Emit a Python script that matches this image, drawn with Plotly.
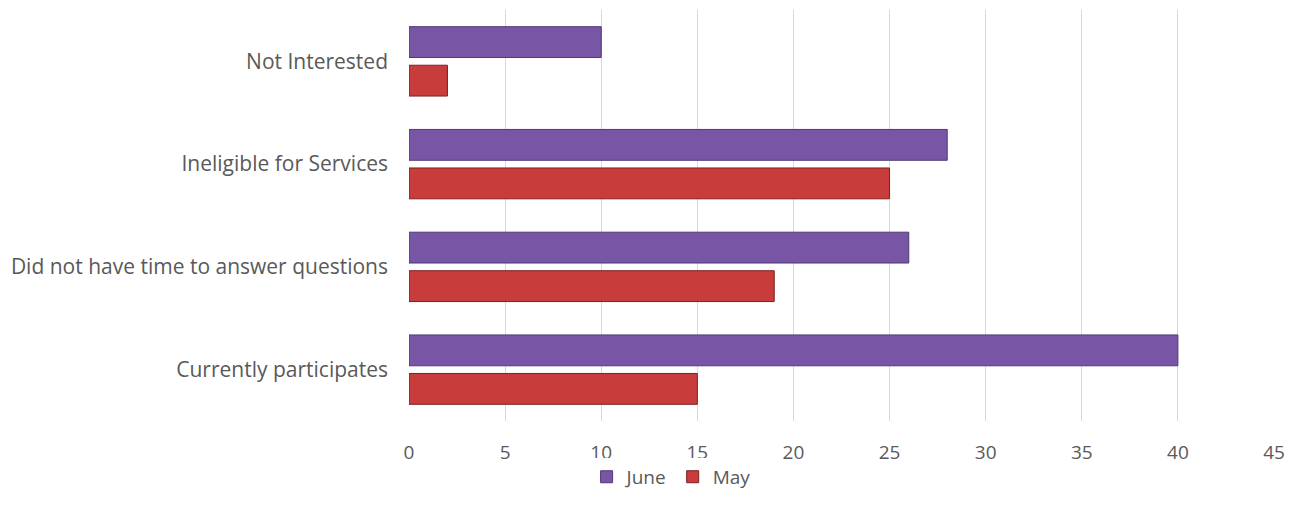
import plotly.graph_objects as go

categories = ["Currently participates", "Did not have time to answer questions",
              "Ineligible for Services", "Not Interested"]
june = [40, 26, 28, 10]
may = [15, 19, 25, 2]
x_ticks = [0, 5, 10, 15, 20, 25, 30, 35, 40, 45]

fig = go.Figure()
fig.add_trace(go.Bar(y=categories, x=may, name="May", orientation="h",
                     marker=dict(color="#C83C3C", line=dict(color="#7E1F20", width=1))))
fig.add_trace(go.Bar(y=categories, x=june, name="June", orientation="h",
                     marker=dict(color="#7856A5", line=dict(color="#4E3877", width=1))))

fig.update_layout(
    width=1281, height=501,
    margin=dict(l=401, r=15, t=2, b=88),
    barmode="group", bargap=0.25, bargroupgap=0.2,
    plot_bgcolor="white", paper_bgcolor="white",
    font=dict(family="Open Sans", size=19, color="#595959"),
    xaxis=dict(range=[0, 45], tickvals=x_ticks, showgrid=True, gridcolor="#D9D9D9",
               gridwidth=1, zeroline=False, ticks="", tickfont=dict(size=19),
               ticklabelstandoff=18),
    yaxis=dict(showgrid=False, ticks="", showline=False, tickfont=dict(size=21),
               ticklabelstandoff=20),
    legend=dict(orientation="h", x=0.303, xanchor="center", y=-0.136, yanchor="middle",
                traceorder="reversed", font=dict(size=19), itemwidth=30),
    showlegend=True,
)
fig.write_html("out.html")
